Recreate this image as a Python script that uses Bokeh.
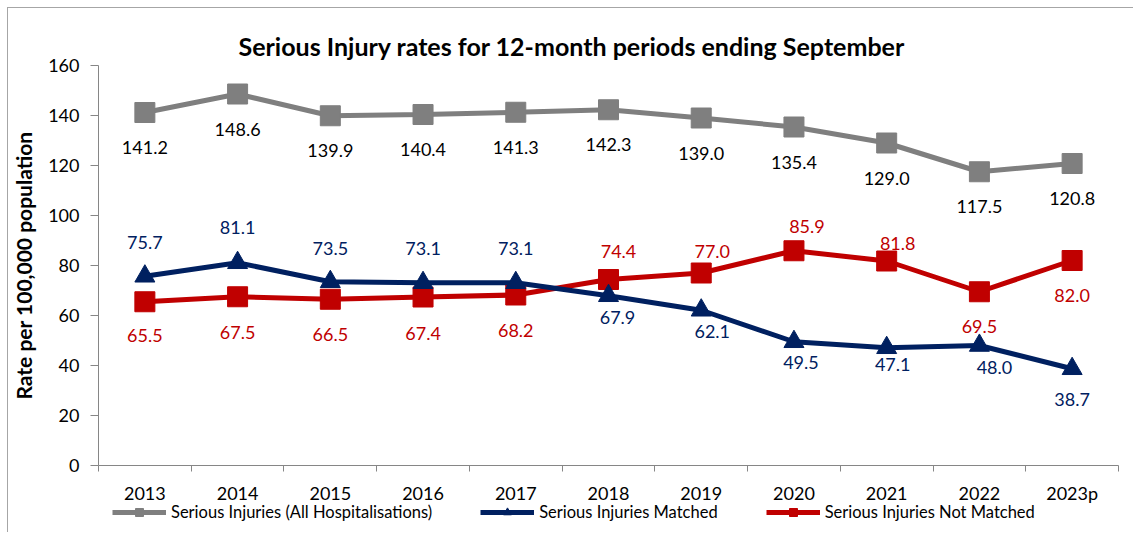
from bokeh.plotting import figure
from bokeh.layouts import column
from bokeh.models import (Range1d, FixedTicker, ColumnDataSource, Legend, LegendItem, Title)
from bokeh.core.properties import value
from bokeh.embed import file_html
from bokeh.resources import INLINE

years = ["2013", "2014", "2015", "2016", "2017", "2018", "2019", "2020", "2021", "2022", "2023p"]
all_hosp = [141.2, 148.6, 139.9, 140.4, 141.3, 142.3, 139.0, 135.4, 129.0, 117.5, 120.8]
matched = [75.7, 81.1, 73.5, 73.1, 73.1, 67.9, 62.1, 49.5, 47.1, 48.0, 38.7]
not_matched = [65.5, 67.5, 66.5, 67.4, 68.2, 74.4, 77.0, 85.9, 81.8, 69.5, 82.0]

series_names = ["Serious Injuries (All Hospitalisations)", "Serious Injuries Matched",
                "Serious Injuries Not Matched"]
title_text = "Serious Injury rates for 12-month periods ending September"
y_label = "Rate per 100,000 population"

# label placement (screen pixel offsets; styling only)
gray_dy = [35] * 11
gray_dx = [0] * 11
blue_dy = [-34, -35, -33, -34, -34, 22, 21, 21, 17, 22, 31]
blue_dx = [0, 0, 0, 0, 0, 9, 11, 7, 6, 15, 0]
red_dy = [34, 36, 35, 36, 35, -28, -22, -24, -18, 35, 35]
red_dx = [0, 0, 0, 0, 0, 10, 11, 13, 11, 0, 0]

GRAY = "#7f7f7f"
NAVY = "#002060"
RED = "#c00000"
FONT = "Lato"

xs = list(range(len(years)))

p = figure(frame_width=1020, frame_height=400, output_backend="svg", toolbar_location=None,
           x_range=Range1d(-0.5, len(years) - 0.5), y_range=Range1d(0, 160),
           min_border_left=89, min_border_right=14, min_border_top=57, min_border_bottom=36)
p.outline_line_color = None
p.xgrid.visible = False
p.ygrid.visible = False
p.background_fill_color = "white"
p.border_fill_color = "white"

# axes
p.yaxis.ticker = FixedTicker(ticks=[0, 20, 40, 60, 80, 100, 120, 140, 160])
p.yaxis.axis_line_color = "#868686"
p.yaxis.major_tick_line_color = "#868686"
p.yaxis.major_tick_out = 8
p.yaxis.major_tick_in = 0
p.yaxis.minor_tick_line_color = None
p.yaxis.major_label_text_font = FONT
p.yaxis.major_label_text_font_size = "18px"
p.yaxis.major_label_text_color = "black"
p.yaxis.major_label_standoff = 11
p.yaxis.axis_label = y_label
p.yaxis.axis_label_text_font = FONT
p.yaxis.axis_label_text_font_style = "bold"
p.yaxis.axis_label_text_font_size = "21px"
p.yaxis.axis_label_text_color = "black"
p.yaxis.axis_label_standoff = 9

p.xaxis.ticker = FixedTicker(ticks=xs, minor_ticks=[i - 0.5 for i in range(len(years) + 1)])
p.xaxis.major_label_overrides = {i: y for i, y in enumerate(years)}
p.xaxis.axis_line_color = "#868686"
p.xaxis.major_tick_line_color = None
p.xaxis.major_tick_out = 0
p.xaxis.major_tick_in = 0
p.xaxis.minor_tick_line_color = "#868686"
p.xaxis.minor_tick_out = 6
p.xaxis.minor_tick_in = 0
p.xaxis.major_label_text_font = FONT
p.xaxis.major_label_text_font_size = "18px"
p.xaxis.major_label_text_color = "black"
p.xaxis.major_label_standoff = 10

def add_series(vals, color, marker, dy, dx, label_color):
    src = ColumnDataSource(dict(x=xs, y=vals, t=[f"{v:.1f}" for v in vals], dy=dy, dx=dx))
    p.line("x", "y", source=src, line_color=color, line_width=5)
    p.scatter("x", "y", source=src, marker=marker, size=20, fill_color=color, line_color=color)
    p.text("x", "y", text="t", source=src, x_offset="dx", y_offset="dy",
           text_align="center", text_baseline="middle", text_color=label_color,
           text_font=value(FONT), text_font_size="18px")

add_series(all_hosp, GRAY, "square", gray_dy, gray_dx, "black")
add_series(not_matched, RED, "square", red_dy, red_dx, RED)
add_series(matched, NAVY, "triangle", blue_dy, blue_dx, NAVY)

title = Title(text=title_text, align="left", offset=140, standoff=10, vertical_align="bottom",
              text_font=FONT, text_font_style="bold", text_font_size="25px", text_color="black")
p.add_layout(title, "above")

# legend lives in its own transparent strip under the chart, pulled up slightly
lf = figure(width=1125, height=32, output_backend="svg", toolbar_location=None,
            x_range=Range1d(0, 1), y_range=Range1d(0, 1),
            x_axis_location=None, y_axis_location=None,
            min_border_left=0, min_border_right=0, min_border_top=0, min_border_bottom=0)
lf.outline_line_color = None
lf.xgrid.visible = False
lf.ygrid.visible = False
lf.background_fill_alpha = 0
lf.border_fill_alpha = 0
lf.margin = (-6, 0, 0, 0)

items = []
for name, color, marker in zip(series_names, [GRAY, NAVY, RED], ["square", "triangle", "square"]):
    proxy = ColumnDataSource(dict(x=[-10], y=[-10]))
    l = lf.line("x", "y", source=proxy, line_color=color, line_width=5)
    s = lf.scatter("x", "y", source=proxy, marker=marker, size=8, fill_color=color, line_color=color)
    items.append(LegendItem(label=name, renderers=[l, s]))

legend = Legend(items=items, orientation="horizontal", location=(14, 10),
                glyph_width=54, glyph_height=20, label_standoff=5, spacing=48,
                padding=0, margin=0, border_line_color=None, background_fill_alpha=0,
                label_text_font=FONT, label_text_font_size="16.5px", label_text_color="black")
lf.add_layout(legend)

layout = column(p, lf, spacing=0)
layout.styles = {"border-top": "1px solid #a6a6a6", "border-left": "1px solid #a6a6a6",
                 "margin-left": "7px", "margin-top": "7px"}

open("out.html", "w").write(file_html(layout, INLINE))
